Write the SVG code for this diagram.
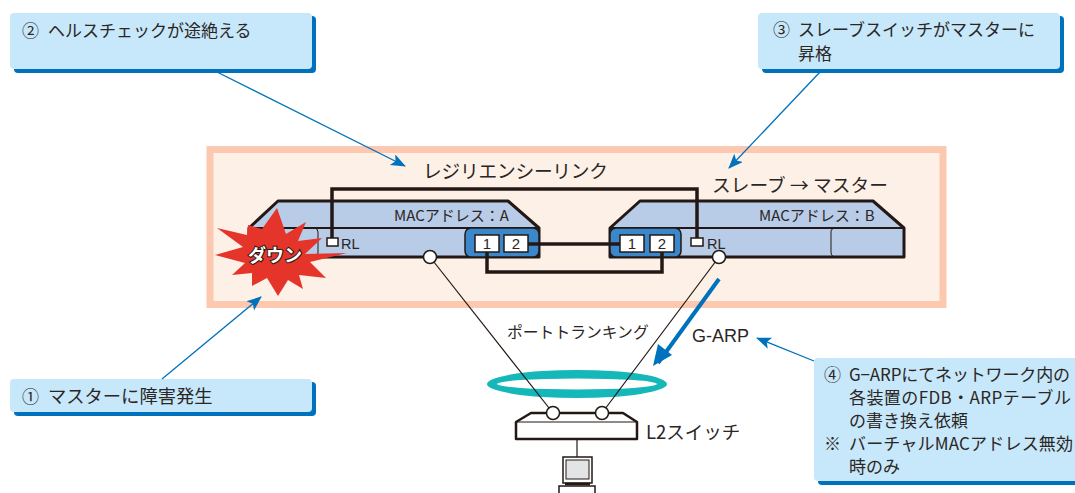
<svg xmlns="http://www.w3.org/2000/svg" width="1075" height="493" viewBox="0 0 1075 493">
<style>
text{font-family:"Noto Sans CJK JP","Liberation Sans",sans-serif;fill:#2b2624}
.c{font-size:17px}.l{font-size:18.700px}.s{font-size:15px}
.lat{font-family:"Liberation Sans",sans-serif}
.box{fill:#c7e8fa}.sh{fill:#0071bc}
.dev{fill:#b8cce8;stroke:#231815;stroke-width:3;stroke-linejoin:round}
.div{fill:none;stroke:#231815;stroke-width:1.800}
.inner{fill:none;stroke:#231815;stroke-width:1}
.th{fill:none;stroke:#231815;stroke-width:3.500}
.thin{fill:none;stroke:#231815;stroke-width:1.200}
.arr{fill:none;stroke:#0071bc;stroke-width:1.300;marker-end:url(#a)}
.port{fill:#fff;stroke:#231815;stroke-width:1.500}
.knob{fill:#fff;stroke:#231815;stroke-width:1.500}
.num{font-family:"Liberation Sans",sans-serif;font-size:15px;text-anchor:middle}
</style>
<defs><marker id="a" markerUnits="userSpaceOnUse" markerWidth="16" markerHeight="14" refX="14" refY="6" orient="auto"><path d="M0 0L15 6L0 12L3.500 6Z" fill="#0071bc"/></marker></defs>
<g id="resilience-area"><rect x="210" y="149.500" width="733" height="155" fill="#fdf1e7" stroke="#fdc8b0" stroke-width="7"/></g>
<g id="note2"><rect x="14" y="16" width="302" height="57" rx="4" class="sh"/><rect x="10" y="13" width="302" height="56" rx="4" class="box"/><text x="22" y="37" class="c">②</text><text x="48" y="37" class="c">ヘルスチェックが途絶える</text></g>
<g id="note3"><rect x="762" y="16" width="302" height="57" rx="4" class="sh"/><rect x="758" y="13" width="302" height="56" rx="4" class="box"/><text x="773" y="36" class="c">③</text><text x="798" y="36" class="c">スレーブスイッチがマスターに</text><text x="798" y="60" class="c">昇格</text></g>
<g id="note1"><rect x="14" y="382" width="302" height="34" rx="4" class="sh"/><rect x="10" y="379" width="302" height="33" rx="4" class="box"/><text x="22" y="403" class="c">①</text><text x="48" y="403" style="font-size:18.300px">マスターに障害発生</text></g>
<g id="note4"><rect x="818" y="361" width="262" height="124" rx="4" class="sh"/><rect x="814" y="358" width="265" height="123" rx="4" class="box"/><text x="824" y="381" class="c">④</text><text x="849" y="381" class="c" textLength="221">G−ARPにてネットワーク内の</text><text x="849" y="404" class="c" textLength="222">各装置のFDB・ARPテーブル</text><text x="849" y="427" class="c">の書き換え依頼</text><text x="824" y="450" class="c">※</text><text x="849" y="450" class="c" textLength="224">バーチャルMACアドレス無効</text><text x="849" y="473" class="c">時のみ</text></g>
<g id="switch-a"><path class="dev" d="M249 228L278 201H508L539 228V257H249Z"/><path d="M249 228H539" class="div"/><path d="M249 228H314Q318 228 318 232V252Q318 257 314 257H249" class="inner"/>
<text x="394" y="221" class="s">MACアドレス：A</text>
<rect x="465" y="228" width="74" height="29" rx="6" fill="#3a87cb" stroke="#231815" stroke-width="1.500"/>
<rect x="475" y="235" width="24" height="17" class="port"/><text x="487" y="249" class="num">1</text><rect x="504" y="235" width="24" height="17" class="port"/><text x="516" y="249" class="num">2</text>
<rect x="327" y="238" width="11" height="8" class="port"/><text x="341" y="249" font-size="14.500" class="lat">RL</text></g>
<g id="switch-b"><path class="dev" d="M610 228L640 201H873L904 228V257H610Z"/><path d="M610 228H904" class="div"/><path d="M902 228H836Q831 228 831 232V252Q831 257 836 257H902" class="inner"/>
<text x="759" y="221" class="s">MACアドレス：B</text>
<rect x="610" y="228" width="71" height="29" rx="6" fill="#3a87cb" stroke="#231815" stroke-width="1.500"/>
<rect x="620" y="235" width="24" height="17" class="port"/><text x="632" y="249" class="num">1</text><rect x="650" y="235" width="24" height="17" class="port"/><text x="662" y="249" class="num">2</text>
<rect x="691" y="238" width="12" height="8" class="port"/><text x="707" y="249" font-size="14.500" class="lat">RL</text></g>
<g id="ring"><path fill-rule="evenodd" fill="#14b8b8" d="M487 384A90 14 0 1 1 667 384A90 14 0 1 1 487 384ZM497 384A80 5.500 0 1 0 657 384A80 5.500 0 1 0 497 384Z"/></g>
<g id="connectors">
<path class="th" d="M332 238V189H697V238"/><path class="th" d="M528 244H620"/><path class="th" d="M487 252V272H662V252"/>
<path class="thin" d="M430 257L553 413"/><path class="thin" d="M719 257L602 413"/>
<path class="arr" d="M217 72L405 166"/><path class="arr" d="M820 72L729 168"/><path class="arr" d="M162 379L261 297"/><path class="arr" d="M814 361L757 338"/>
<path d="M719 279L658 363" fill="none" stroke="#0071bc" stroke-width="4"/><path d="M653 366L658 344L672 355Z" fill="#0071bc"/>
<path d="M577 439V457" class="thin"/>
</g>
<g id="knobs"><circle cx="430" cy="257" r="6.500" class="knob"/><circle cx="719" cy="257" r="6.500" class="knob"/></g>
<g id="l2-switch"><path d="M516 422L531 413H623L637 422V439H516Z" fill="#fff" stroke="#231815" stroke-width="2.500" stroke-linejoin="round"/><path d="M516 422H637" class="thin"/><circle cx="553" cy="413" r="6.500" class="knob"/><circle cx="602" cy="413" r="6.500" class="knob"/><text x="646" y="439" style="font-size:18.500px">L2スイッチ</text></g>
<g id="pc"><rect x="563" y="457" width="29" height="26" fill="#fff" stroke="#231815" stroke-width="1.500"/><rect x="566" y="460" width="23" height="19" fill="#e3e4e5" stroke="#231815"/><path d="M559 493V486H595V493" fill="#fff" stroke="#231815" stroke-width="1.500"/><path d="M565 484H590" stroke="#231815" stroke-width="2.500"/></g>
<g id="down"><path d="M277 208L286 234L306 222L298 241L322 238L305 254L347 253L310 262L326 278L299 275L303 289L288 280L278 296L267 278L252 286L252 273L232 275L245 263L215 255L243 247L217 228L247 235L248 225L262 229Z" fill="#e5352b"/><text x="248" y="262" font-size="18" style="fill:#fff;font-weight:700;stroke:#231815;stroke-width:2;paint-order:stroke">ダウン</text></g>
<g id="labels"><text x="423" y="178" class="l" textLength="185">レジリエンシーリンク</text><text x="712" y="192" class="l" textLength="176">スレーブ → マスター</text><text x="507" y="338" style="font-size:15.800px">ポートトランキング</text><text x="692" y="342" class="lat" style="font-size:18px">G-ARP</text></g>
</svg>
